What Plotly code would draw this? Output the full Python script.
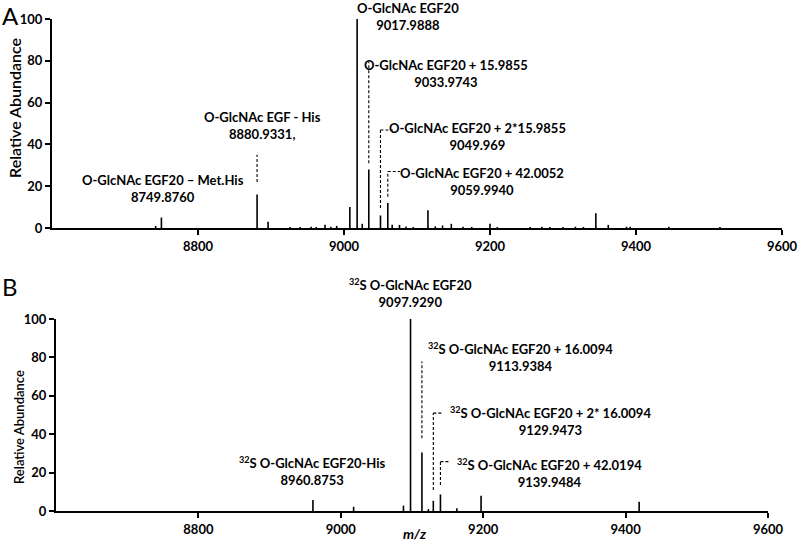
import plotly.graph_objects as go

# ---------------- data ----------------
# Panel A spectrum (m/z, relative abundance)
a_mz = [8742, 8749.876, 8880.9331, 8896, 8926, 8940, 8955, 8962, 8974, 8982, 8990,
        9008, 9017.9888, 9025, 9033.9743, 9049.969, 9059.994, 9066, 9076, 9085, 9095,
        9115, 9125, 9135, 9147, 9163, 9175, 9200, 9210, 9255, 9271, 9282, 9300, 9317,
        9328, 9345, 9362, 9387, 9392, 9445, 9515]
a_int = [1.0, 5.0, 16.0, 3.0, 0.5, 0.5, 0.6, 0.5, 1.5, 0.6, 1.0,
         10.0, 100.0, 2.0, 28.0, 6.0, 12.0, 1.5, 1.5, 0.7, 0.5,
         8.5, 0.8, 1.2, 2.0, 0.6, 0.5, 2.0, 0.5, 0.5, 0.6, 0.5, 0.5, 0.6,
         0.5, 7.0, 1.5, 0.6, 0.6, 0.6, 0.5]

# Panel B spectrum
b_mz = [8960.8753, 9018, 9088, 9097.929, 9113.9384, 9123, 9129.9473, 9139.9484,
        9163, 9197, 9419]
b_int = [5.7, 2.2, 2.8, 100.0, 30.5, 1.0, 5.3, 8.6, 1.4, 8.0, 4.8]

# Peak labels
a_labels = ["O-GlcNAc EGF20<br>9017.9888",
            "O-GlcNAc EGF20 + 15.9855<br>9033.9743",
            "O-GlcNAc EGF20 + 2*15.9855<br>9049.969",
            "O-GlcNAc EGF20 + 42.0052<br>9059.9940",
            "O-GlcNAc EGF - His<br>8880.9331,",
            "O-GlcNAc EGF20 \u2013 Met.His<br>8749.8760"]
a_label_mz = [9087.7, 9139.7, 9182.2, 9189.0, 8889.0, 8752.0]
a_label_y = [0.9704, 0.8641, 0.7477, 0.6645, 0.7671, 0.6516]

b_labels = ["<sup>32</sup>S O-GlcNAc EGF20<br>9097.9290",
            "<sup>32</sup>S O-GlcNAc EGF20 + 16.0094<br>9113.9384",
            "<sup>32</sup>S O-GlcNAc EGF20 + 2* 16.0094<br>9129.9473",
            "<sup>32</sup>S O-GlcNAc EGF20 + 42.0194<br>9139.9484",
            "<sup>32</sup>S O-GlcNAc EGF20-His<br>8960.8753"]
b_label_mz = [9097.7, 9252.5, 9294.7, 9293.2, 8960.0]
b_label_y = [0.4586, 0.3403, 0.2211, 0.1257, 0.1290]

# Dashed leader lines: (m/z, y low, y high, m/z end of top hook or None)
a_leaders = [(8880.9331, 22, 35, None), (9033.9743, 31, 79.6, None),
             (9049.969, 9.6, 46.9, 9067), (9059.994, 15, 27, 9076.7)]
b_leaders = [(9113.9384, 37.9, 77.8, None), (9129.9473, 11, 51, 9143),
             (9139.9484, 13.5, 25.7, 9153.6)]

x_ticks = [8800, 9000, 9200, 9400, 9600]
y_ticks = [0, 20, 40, 60, 80, 100]

FONT = "Lato"


def stick(mz, inten):
    xs, ys = [], []
    for m, v in zip(mz, inten):
        xs += [m, m, None]
        ys += [0, v, None]
    return xs, ys


def leader(items):
    xs, ys = [], []
    for m, lo, hi, hook in items:
        xs += [m, m, None]
        ys += [lo, hi, None]
        if hook is not None:
            xs += [m, hook, None]
            ys += [hi, hi, None]
    return xs, ys


fig = go.Figure()
for mz, it, xa, ya in [(a_mz, a_int, "x", "y"), (b_mz, b_int, "x2", "y2")]:
    xs, ys = stick(mz, it)
    fig.add_trace(go.Scatter(x=xs, y=ys, mode="lines", xaxis=xa, yaxis=ya,
                             line=dict(color="black", width=1.6),
                             hoverinfo="skip", showlegend=False))
for items, xa, ya in [(a_leaders, "x", "y"), (b_leaders, "x2", "y2")]:
    xs, ys = leader(items)
    fig.add_trace(go.Scatter(x=xs, y=ys, mode="lines", xaxis=xa, yaxis=ya,
                             line=dict(color="black", width=1.1, dash="3px,2px"),
                             hoverinfo="skip", showlegend=False))

W, H = 798, 541
axis_common = dict(showline=True, linecolor="black", linewidth=2, ticks="outside",
                   ticklen=5, tickwidth=1.5, tickcolor="black", showgrid=False,
                   zeroline=False, automargin=False, ticklabeloverflow="allow",
                   tickfont=dict(family=FONT, size=13, color="black", weight="bold"))

fig.update_layout(
    width=W, height=H, margin=dict(l=0, r=0, t=0, b=0, autoexpand=False),
    paper_bgcolor="white", plot_bgcolor="white",
    xaxis=dict(domain=[52 / W, 782 / W], range=[8600, 9600], tickvals=x_ticks,
               anchor="y", **axis_common),
    yaxis=dict(domain=[1 - 228 / H, 1 - 19 / H], range=[0, 100], tickvals=y_ticks,
               anchor="x", **axis_common),
    xaxis2=dict(domain=[56 / W, 768 / W], range=[8600, 9600], tickvals=x_ticks,
                anchor="y2", **axis_common),
    yaxis2=dict(domain=[1 - 511 / H, 1 - 319 / H], range=[0, 100], tickvals=y_ticks,
                anchor="x2", **axis_common),
)

anns = []
lab_font = dict(family=FONT, size=13, color="black", weight="bold")
for t, xm, yp in zip(a_labels, a_label_mz, a_label_y):
    anns.append(dict(text=t, x=xm, y=yp, xref="x", yref="paper", showarrow=False,
                     xanchor="center", yanchor="middle", font=lab_font))
for t, xm, yp in zip(b_labels, b_label_mz, b_label_y):
    anns.append(dict(text=t, x=xm, y=yp, xref="x2", yref="paper", showarrow=False,
                     xanchor="center", yanchor="middle", font=lab_font))

anns += [
    dict(text="A", x=0, y=1 - 15 / H, xref="paper", yref="paper", showarrow=False,
         xanchor="left", yanchor="middle", font=dict(family=FONT, size=24, color="black")),
    dict(text="B", x=0, y=1 - 286 / H, xref="paper", yref="paper", showarrow=False,
         xanchor="left", yanchor="middle", font=dict(family=FONT, size=24, color="black")),
    dict(text="Relative Abundance", x=15 / W, y=1 - 108 / H, xref="paper", yref="paper",
         showarrow=False, textangle=-90, xanchor="center", yanchor="middle",
         font=dict(family=FONT, size=16, color="black", weight=600)),
    dict(text="Relative Abundance", x=19 / W, y=1 - 427 / H, xref="paper", yref="paper",
         showarrow=False, textangle=-90, xanchor="center", yanchor="middle",
         font=dict(family=FONT, size=13, color="black", weight=600)),
    dict(text="<b><i>m/z</i></b>", x=414 / W, y=1 - 533 / H, xref="paper", yref="paper",
         showarrow=False, xanchor="center", yanchor="middle",
         font=dict(family=FONT, size=14, color="black")),
]
fig.update_layout(annotations=anns)

fig.write_html("out.html", config={"displayModeBar": False},
               post_script="document.body.style.margin='0';"
                           "document.body.style.overflow='hidden';")
